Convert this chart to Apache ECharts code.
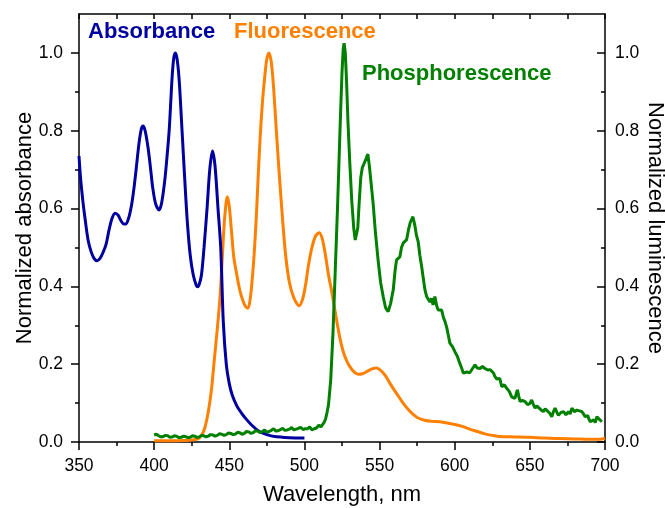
<!DOCTYPE html>
<html>
<head>
<meta charset="utf-8">
<script src="https://cdn.jsdelivr.net/npm/echarts@6/dist/echarts.min.js"></script>
<style>
  html, body { margin: 0; padding: 0; background: #fff; }
  #chart { width: 665px; height: 508px; }
</style>
</head>
<body>
<div id="chart"></div>
<script>
// wavelength (nm), normalized value
const absorbance = [
  [350, 0.735], [351, 0.68], [352, 0.64], [353, 0.605], [354, 0.575], [356, 0.52],
  [358, 0.49], [360, 0.472], [362, 0.466], [364, 0.472], [366, 0.487], [368, 0.508],
  [370, 0.545], [372, 0.575], [374, 0.588], [376, 0.583], [378, 0.568], [380, 0.56],
  [381, 0.56], [383, 0.575], [385, 0.61], [386.5, 0.65], [388, 0.7], [390, 0.77],
  [391.5, 0.805], [392.6, 0.812], [394, 0.8], [396, 0.755], [397.7, 0.7], [399, 0.655],
  [401, 0.612], [403.3, 0.596], [405, 0.615], [407, 0.67], [408.5, 0.73], [410, 0.8],
  [411, 0.87], [412, 0.94], [413, 0.985], [414, 1.0], [415, 0.99], [416, 0.96],
  [417, 0.91], [418, 0.84], [419, 0.77], [420, 0.7], [422, 0.57], [424, 0.48],
  [426, 0.43], [428, 0.403], [429, 0.399], [430, 0.405], [431.5, 0.43], [433.2, 0.5],
  [435.2, 0.6], [437, 0.7], [438.8, 0.748], [440.5, 0.71], [442.5, 0.6], [444.3, 0.5],
  [446, 0.31], [448, 0.2], [450, 0.15], [452, 0.12], [455, 0.093], [458, 0.075],
  [461, 0.06], [465, 0.043], [470, 0.027], [475, 0.019], [480, 0.014], [490, 0.011],
  [500, 0.01]
];

const fluorescence = [
  [400, 0.003], [410, 0.003], [420, 0.004], [425, 0.005], [428, 0.007], [430, 0.01],
  [432, 0.02], [434, 0.04], [436, 0.077], [438, 0.13], [440, 0.21], [442, 0.29],
  [443.7, 0.365], [445, 0.45], [446, 0.52], [447, 0.58], [448.7, 0.63], [450, 0.605],
  [451.5, 0.54], [453, 0.475], [454.8, 0.434], [457, 0.39], [459.2, 0.362], [461, 0.347],
  [462.5, 0.344], [464, 0.37], [465.3, 0.42], [466.5, 0.48], [468, 0.58], [469.2, 0.68],
  [470.5, 0.78], [472, 0.87], [473.5, 0.935], [475, 0.985], [476.5, 1.0], [478, 0.975],
  [479.3, 0.92], [480.5, 0.85], [482, 0.76], [483.6, 0.67], [485.5, 0.57], [487.5, 0.48],
  [490, 0.41], [493, 0.37], [496.5, 0.35], [499, 0.37], [501, 0.41], [502.5, 0.45],
  [505, 0.5], [507.5, 0.53], [510, 0.538], [512, 0.52], [514, 0.48], [516, 0.43],
  [518, 0.39], [520, 0.345], [522, 0.3], [524, 0.26], [526, 0.23], [528, 0.21],
  [530, 0.195], [533, 0.18], [536, 0.174], [539, 0.176], [542, 0.182], [545, 0.188],
  [548, 0.19], [551, 0.183], [554, 0.17], [557, 0.15], [560, 0.132], [563, 0.115],
  [566, 0.098], [569, 0.084], [572, 0.072], [575, 0.063], [580, 0.056], [585, 0.053],
  [590, 0.052], [595, 0.049], [600, 0.045], [605, 0.04], [610, 0.033], [615, 0.027],
  [620, 0.021], [625, 0.017], [630, 0.014], [640, 0.013], [650, 0.012], [660, 0.01],
  [670, 0.009], [680, 0.008], [690, 0.007], [697, 0.007], [700, 0.01]
];

const phosphorescence = [
  [400, 0.018], [401.5, 0.02], [403, 0.016], [404.5, 0.013], [406, 0.014], [407.5, 0.017],
  [409, 0.016], [410.5, 0.012], [412, 0.013], [413.5, 0.016], [415, 0.015], [416.5, 0.011],
  [418, 0.012], [419.5, 0.015], [421, 0.014], [422.5, 0.011], [424, 0.012], [425.5, 0.016],
  [427, 0.015], [428.5, 0.012], [430, 0.013], [431.5, 0.017], [433, 0.016], [434.5, 0.013],
  [436, 0.015], [437.5, 0.019], [439, 0.018], [440.5, 0.015], [442, 0.017], [443.5, 0.021],
  [445, 0.02], [446.5, 0.017], [448, 0.019], [449.5, 0.023], [451, 0.022], [452.5, 0.019],
  [454, 0.02], [455.5, 0.025], [457, 0.024], [458.5, 0.02], [460, 0.022], [461.5, 0.027],
  [463, 0.026], [464.5, 0.022], [466, 0.024], [467.5, 0.029], [469, 0.028], [470.5, 0.024],
  [472, 0.027], [473.5, 0.031], [475, 0.025], [476.5, 0.027], [478, 0.03], [479.5, 0.034],
  [481, 0.028], [482.5, 0.029], [484, 0.032], [485.5, 0.035], [487, 0.03], [488.5, 0.031],
  [490, 0.033], [491.5, 0.037], [493, 0.031], [494.5, 0.033], [496, 0.035], [497.5, 0.038],
  [499, 0.032], [500.5, 0.034], [502, 0.034], [503.5, 0.039], [505, 0.031], [506.5, 0.034],
  [508, 0.036], [509.5, 0.043], [511, 0.039], [512, 0.042], [513, 0.05], [514, 0.058],
  [515, 0.075], [516, 0.095], [517.5, 0.16], [519, 0.28], [520.5, 0.44], [522, 0.6],
  [523, 0.72], [524, 0.84], [525, 0.95], [525.8, 1.01], [526.4, 1.025], [527.2, 1.0],
  [528, 0.93], [529, 0.82], [530.2, 0.716], [531.5, 0.62], [532.8, 0.55], [533.8, 0.519],
  [534.6, 0.518], [535.5, 0.55], [536.5, 0.62], [537.5, 0.68], [538.5, 0.705], [539.3, 0.712],
  [540.3, 0.713], [541.2, 0.73], [542.2, 0.74], [543.2, 0.71], [544.5, 0.66], [545.7, 0.614],
  [547.2, 0.54], [549, 0.468], [550.7, 0.41], [552.4, 0.374], [554, 0.345], [555.7, 0.335],
  [557.3, 0.355], [559.1, 0.391], [560.3, 0.44], [561.3, 0.468], [562.5, 0.47], [563.5, 0.476],
  [564.6, 0.5], [565.7, 0.511], [566.8, 0.515], [568, 0.52], [569.2, 0.545], [570.5, 0.565],
  [572.2, 0.579], [573.5, 0.556], [574.6, 0.53], [575.7, 0.515], [576.8, 0.48], [578, 0.451],
  [579.1, 0.42], [580.2, 0.391], [581.3, 0.374], [582.5, 0.375], [583.5, 0.36], [584.6, 0.369],
  [585.6, 0.352], [586.8, 0.374], [588, 0.35], [589, 0.339], [590.2, 0.342], [591.3, 0.339],
  [592.5, 0.32], [593.5, 0.31], [594.6, 0.296], [595.7, 0.275], [596.8, 0.254], [598.5, 0.245],
  [600.1, 0.232], [601.8, 0.22], [603.4, 0.202], [604.6, 0.19], [605.7, 0.177], [607, 0.172],
  [608, 0.18], [609, 0.185], [610, 0.178], [611.3, 0.181], [612.4, 0.192], [613.5, 0.198],
  [615, 0.19], [616.8, 0.189], [618.5, 0.194], [620.1, 0.189], [622, 0.185], [623.5, 0.186],
  [624.6, 0.189], [625.7, 0.178], [626.8, 0.168], [628, 0.162], [629, 0.159], [630, 0.163],
  [631.3, 0.142], [633, 0.147], [634.6, 0.138], [636.3, 0.13], [637.9, 0.116], [639, 0.118],
  [640.1, 0.112], [641, 0.125], [641.7, 0.134], [642.6, 0.118], [643.5, 0.104], [645, 0.107],
  [646.8, 0.104], [648.5, 0.096], [650.1, 0.099], [651.2, 0.108], [652.3, 0.097], [653.5, 0.087],
  [654.6, 0.093], [655.7, 0.091], [657.3, 0.083], [659, 0.078], [660.2, 0.085], [661.3, 0.082],
  [663, 0.075], [664.6, 0.065], [665.7, 0.078], [666.8, 0.087], [668, 0.076], [669, 0.069],
  [670.7, 0.076], [672.4, 0.078], [674, 0.07], [675.7, 0.078], [676.8, 0.072], [678, 0.087],
  [679.6, 0.078], [681.3, 0.082], [683, 0.08], [684.6, 0.078], [685.7, 0.072], [686.8, 0.065],
  [688.5, 0.068], [689.4, 0.058], [690.2, 0.052], [691.3, 0.048], [692.4, 0.057], [693.5, 0.05],
  [694.6, 0.065], [695.5, 0.062], [696.3, 0.058], [697.9, 0.052]
];

const yTicks = [0, 0.2, 0.4, 0.6, 0.8, 1.0];

const font = "'Liberation Sans', Arial, sans-serif";
const blue = "#0000a0";
const orange = "#ff8000";
const green = "#008000";

const myChart = echarts.init(document.getElementById("chart"));

const axisLine = { show: true, onZero: false, lineStyle: { color: "#000", width: 1.5 } };

const option = {
  animation: false,
  backgroundColor: "#fff",
  grid: { left: 79, right: 60, top: 14, bottom: 66, outerBoundsMode: "none", containLabel: false },
  xAxis: [
    {
      type: "value",
      position: "bottom",
      min: 350,
      max: 700,
      interval: 50,
      axisLine: axisLine,
      axisTick: { show: true, inside: false, length: 8, lineStyle: { color: "#000", width: 1.5 } },
      minorTick: { show: true, splitNumber: 2, length: 4, lineStyle: { color: "#000", width: 1.5 } },
      axisLabel: { color: "#000", fontSize: 17.5, fontFamily: font, margin: 15 },
      splitLine: { show: false },
      name: "Wavelength, nm",
      nameLocation: "middle",
      nameGap: 42,
      nameMoveOverlap: false,
      nameTextStyle: { color: "#000", fontSize: 22, fontFamily: font },
    },
    {
      type: "value",
      position: "top",
      min: 350,
      max: 700,
      interval: 25,
      axisLine: axisLine,
      axisTick: { show: true, inside: true, length: 5, lineStyle: { color: "#000", width: 1.5 } },
      axisLabel: { show: false },
      splitLine: { show: false },
    },
  ],
  yAxis: [
    {
      type: "value",
      position: "left",
      min: 0,
      max: 1.1,
      interval: 0.2,
      axisLine: axisLine,
      axisTick: { show: true, inside: false, length: 8, customValues: yTicks, lineStyle: { color: "#000", width: 1.5 } },
      minorTick: { show: true, splitNumber: 2, length: 4, lineStyle: { color: "#000", width: 1.5 } },
      axisLabel: {
        color: "#000", fontSize: 17.5, fontFamily: font, margin: 16,
        customValues: yTicks,
        formatter: (v) => v.toFixed(1),
      },
      splitLine: { show: false },
      name: "Normalized absorbance",
      nameLocation: "middle",
      nameGap: 43,
      nameMoveOverlap: false,
      nameTextStyle: { color: "#000", fontSize: 22, fontFamily: font },
    },
    {
      type: "value",
      position: "right",
      min: 0,
      max: 1.1,
      interval: 0.2,
      axisLine: axisLine,
      axisTick: { show: true, inside: true, length: 8, customValues: yTicks, lineStyle: { color: "#000", width: 1.5 } },
      minorTick: { show: true, splitNumber: 2, length: 4, lineStyle: { color: "#000", width: 1.5 } },
      axisLabel: {
        color: "#000", fontSize: 17.5, fontFamily: font, margin: 10,
        customValues: yTicks,
        formatter: (v) => v.toFixed(1),
      },
      splitLine: { show: false },
      name: "Normalized luminescence",
      nameLocation: "middle",
      nameRotate: -90,
      nameGap: 39,
      nameMoveOverlap: false,
      nameTextStyle: { color: "#000", fontSize: 22, fontFamily: font },
    },
  ],
  graphic: [
    {
      type: "text", left: 88, top: 21,
      style: { text: "Absorbance", fill: blue, font: "bold 22px " + font },
    },
    {
      type: "text", left: 234, top: 21,
      style: { text: "Fluorescence", fill: orange, font: "bold 22px " + font },
    },
    {
      type: "text", left: 362, top: 63,
      style: { text: "Phosphorescence", fill: green, font: "bold 22px " + font },
    },
  ],
  series: [
    {
      name: "Absorbance",
      type: "line",
      xAxisIndex: 0,
      yAxisIndex: 0,
      data: absorbance,
      smooth: 0.3,
      showSymbol: false,
      lineStyle: { color: blue, width: 3 },
      z: 3,
    },
    {
      name: "Fluorescence",
      type: "line",
      xAxisIndex: 0,
      yAxisIndex: 1,
      data: fluorescence,
      smooth: 0.3,
      showSymbol: false,
      lineStyle: { color: orange, width: 3 },
      z: 2,
    },
    {
      name: "Phosphorescence",
      type: "line",
      xAxisIndex: 0,
      yAxisIndex: 1,
      data: phosphorescence,
      showSymbol: false,
      lineStyle: { color: green, width: 3 },
      z: 4,
    },
  ],
};

myChart.setOption(option);
</script>
</body>
</html>
